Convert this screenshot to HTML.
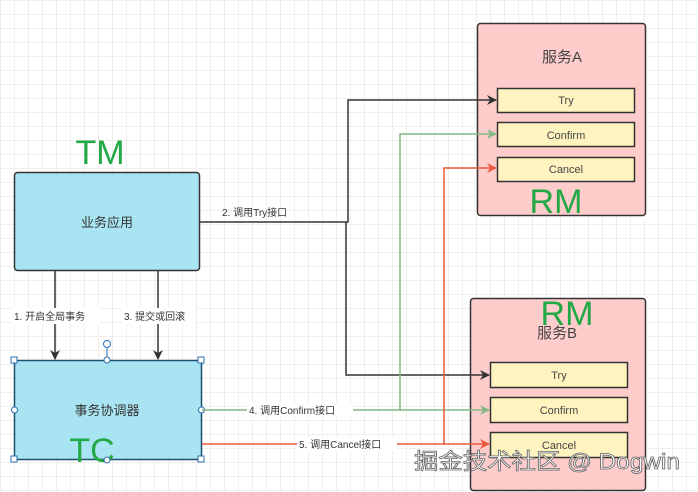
<!DOCTYPE html>
<html><head><meta charset="utf-8"><style>
html,body{margin:0;padding:0;}
body{width:698px;height:492px;overflow:hidden;background:#fff;
background-image:linear-gradient(#efefef 1px,transparent 1px),linear-gradient(90deg,#efefef 1px,transparent 1px);
background-size:14px 14px;font-family:"Liberation Sans","Noto Sans CJK SC",sans-serif;}
</style></head><body>
<svg width="698" height="492" xmlns="http://www.w3.org/2000/svg" style="position:absolute;left:0;top:0" font-family="Liberation Sans, Noto Sans CJK SC, sans-serif">
<defs>
<marker id="ak" markerWidth="10" markerHeight="10" refX="9" refY="5" orient="auto" markerUnits="userSpaceOnUse"><path d="M0,0 L10,5 L0,10 L3,5z" fill="#333"/></marker>
<marker id="ag" markerWidth="10" markerHeight="10" refX="9" refY="5" orient="auto" markerUnits="userSpaceOnUse"><path d="M0,0 L10,5 L0,10 L3,5z" fill="#82b982"/></marker>
<marker id="ar" markerWidth="10" markerHeight="10" refX="9" refY="5" orient="auto" markerUnits="userSpaceOnUse"><path d="M0,0 L10,5 L0,10 L3,5z" fill="#ea5a3c"/></marker>
</defs>
<rect x="477.5" y="23.5" width="168" height="192" rx="3" fill="#ffcccc" stroke="#333" stroke-width="1.5"/>
<text x="562" y="62" font-size="15" fill="#444" text-anchor="middle">服务A</text>
<rect x="497.5" y="88.5" width="137" height="24" fill="#fff3c0" stroke="#333" stroke-width="1.5"/>
<text x="566" y="104" font-size="11" fill="#444" text-anchor="middle">Try</text>
<rect x="497.5" y="122.5" width="137" height="24" fill="#fff3c0" stroke="#333" stroke-width="1.5"/>
<text x="566" y="139" font-size="11" fill="#444" text-anchor="middle">Confirm</text>
<rect x="497.5" y="157.5" width="137" height="24" fill="#fff3c0" stroke="#333" stroke-width="1.5"/>
<text x="566" y="173" font-size="11" fill="#444" text-anchor="middle">Cancel</text>
<text x="556" y="213" font-size="34" fill="#22a845" text-anchor="middle">RM</text>
<rect x="470.5" y="298.5" width="175" height="192" rx="3" fill="#ffcccc" stroke="#333" stroke-width="1.5"/>
<text x="557" y="338" font-size="15" fill="#444" text-anchor="middle">服务B</text>
<text x="567" y="325" font-size="34" fill="#22a845" text-anchor="middle">RM</text>
<rect x="490.5" y="362.5" width="137" height="25" fill="#fff3c0" stroke="#333" stroke-width="1.5"/>
<text x="559" y="379" font-size="11" fill="#444" text-anchor="middle">Try</text>
<rect x="490.5" y="397.5" width="137" height="25" fill="#fff3c0" stroke="#333" stroke-width="1.5"/>
<text x="559" y="414" font-size="11" fill="#444" text-anchor="middle">Confirm</text>
<rect x="490.5" y="432.5" width="137" height="25" fill="#fff3c0" stroke="#333" stroke-width="1.5"/>
<text x="559" y="449" font-size="11" fill="#444" text-anchor="middle">Cancel</text>
<rect x="14.5" y="172.5" width="185" height="98" rx="3" fill="#a9e4f2" stroke="#333" stroke-width="1.5"/>
<text x="107" y="227" font-size="13" fill="#333" text-anchor="middle">业务应用</text>
<text x="100" y="164" font-size="34" fill="#22a845" text-anchor="middle">TM</text>
<rect x="14.5" y="360.5" width="187" height="99" fill="#a9e4f2" stroke="#1f4e6e" stroke-width="1.5"/>
<text x="107" y="415" font-size="13" fill="#333" text-anchor="middle">事务协调器</text>
<text x="92" y="462" font-size="34" fill="#22a845" text-anchor="middle">TC</text>
<g fill="#fff" stroke="#2a6fb0" stroke-width="1">
<rect x="11" y="357" width="6" height="6"/><rect x="198" y="357" width="6" height="6"/>
<rect x="11" y="456" width="6" height="6"/><rect x="198" y="456" width="6" height="6"/>
<circle cx="14.5" cy="410" r="3"/><circle cx="201.5" cy="410" r="3"/><circle cx="107" cy="360" r="3"/><circle cx="107" cy="460" r="3"/>
<circle cx="107" cy="344" r="3.5"/>
</g>
<line x1="107" y1="347" x2="107" y2="357" stroke="#2a6fb0"/>
<line x1="55" y1="271" x2="55" y2="359" stroke="#333" stroke-width="1.5" marker-end="url(#ak)"/>
<line x1="158" y1="271" x2="158" y2="359" stroke="#333" stroke-width="1.5" marker-end="url(#ak)"/>
<rect x="12" y="308" width="88" height="16" fill="#fff"/>
<text x="14" y="320" font-size="10" fill="#333">1. 开启全局事务</text>
<rect x="122" y="308" width="74" height="16" fill="#fff"/>
<text x="124" y="320" font-size="10" fill="#333">3. 提交或回滚</text>
<polyline points="200,222 348,222 348,100 496,100" fill="none" stroke="#333" stroke-width="1.5" marker-end="url(#ak)"/>
<polyline points="346,222 346,375 489,375" fill="none" stroke="#333" stroke-width="1.5" marker-end="url(#ak)"/>
<text x="222" y="216" font-size="10" fill="#333">2. 调用Try接口</text>
<polyline points="202,410 400,410 400,134 496,134" fill="none" stroke="#82b982" stroke-width="1.5" marker-end="url(#ag)"/>
<polyline points="400,410 489,410" fill="none" stroke="#82b982" stroke-width="1.5" marker-end="url(#ag)"/>
<rect x="247" y="403" width="106" height="14" fill="#fff"/>
<text x="249" y="414" font-size="10" fill="#333">4. 调用Confirm接口</text>
<polyline points="202,444 444,444 444,168 496,168" fill="none" stroke="#ea5a3c" stroke-width="1.5" marker-end="url(#ar)"/>
<polyline points="444,444 489,444" fill="none" stroke="#ea5a3c" stroke-width="1.5" marker-end="url(#ar)"/>
<rect x="297" y="437" width="100" height="14" fill="#fff"/>
<text x="299" y="448" font-size="10" fill="#333">5. 调用Cancel接口</text>
<text x="414" y="469" font-size="22" fill="#fff" stroke="#666" stroke-width="0.8" textLength="266" lengthAdjust="spacingAndGlyphs">掘金技术社区 @ Dogwin</text>
</svg>
</body></html>
